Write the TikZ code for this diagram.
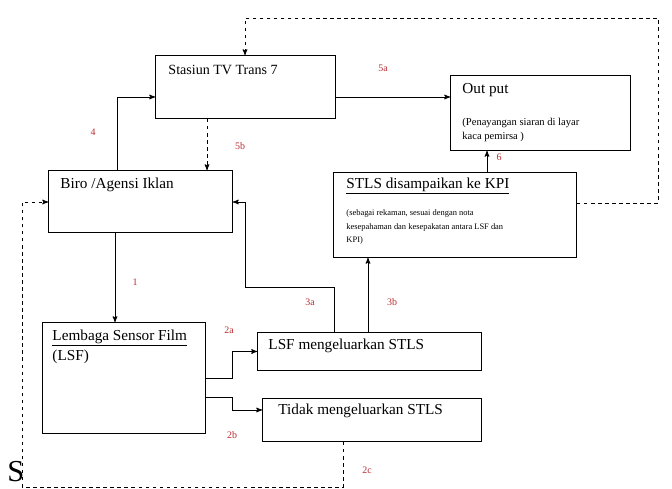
\documentclass[tikz,border=0pt]{standalone}
\usepackage{fontspec}
\setmainfont{Liberation Serif}
\usetikzlibrary{positioning, arrows}
\definecolor{numred}{RGB}{185,45,50}

\begin{document}
\begin{tikzpicture}[x=0.03cm, y=-0.03cm, >=stealth', line width=0.8pt,
box/.style={rectangle, draw=black, anchor=north west, inner sep=0pt},
title/.style={anchor=west, inner sep=0pt, font=\fontsize{13}{15}\selectfont},
note/.style={anchor=north west, inner sep=0pt, align=left, font=\fontsize{7.2}{11.8}\selectfont},
num/.style={text=numred, inner sep=0pt, font=\fontsize{8.5}{10}\selectfont}]
    \useasboundingbox (0,0) rectangle (672,489);

    % boxes
    \node[box, minimum width=5.4cm, minimum height=1.89cm] (tv) at (155,55) {};
    \node[box, minimum width=5.4cm, minimum height=2.25cm] (output) at (450,75) {};
    \node[box, minimum width=5.52cm, minimum height=1.86cm] (biro) at (48,170) {};
    \node[box, minimum width=7.29cm, minimum height=2.55cm] (stls) at (333,172) {};
    \node[box, minimum width=4.89cm, minimum height=3.33cm] (lsf) at (42,322) {};
    \node[box, minimum width=6.72cm, minimum height=1.14cm] (keluar) at (257,332) {};
    \node[box, minimum width=6.57cm, minimum height=1.29cm] (tidak) at (262,398) {};

    % texts
    \node[title, font=\fontsize{12}{14}\selectfont] (tvtext) at (168,70) {Stasiun TV Trans 7};
    \node[title] (outtext) at (462,90) {Out put};
    \node[note, font=\fontsize{9}{12}\selectfont] (outnote) at (462,118) {(Penayangan siaran di layar\\kaca pemirsa )};
    \node[title] (birotext) at (60,185) {Biro /Agensi Iklan};
    \node[title] (stlstext) at (346,186) {\underline{STLS disampaikan ke KPI}};
    \node[note] (stlsnote) at (346,209) {(sebagai rekaman, sesuai dengan nota\\kesepahaman dan kesepakatan antara LSF dan\\KPI)};
    \node[title] (lsftext) at (52,338) {\underline{Lembaga Sensor Film}};
    \node[title] (lsfabbr) at (52,357) {(LSF)};
    \node[title] (keluartext) at (268,346) {LSF mengeluarkan STLS};
    \node[title] (tidaktext) at (278,411) {Tidak mengeluarkan STLS};
    \node[anchor=west, inner sep=0pt, font=\fontsize{26}{28}\selectfont] (s) at (7,472) {S};

    % connectors
    \coordinate (k1) at (115,0);
    \draw[->] (k1 |- biro.south) -- (k1 |- lsf.north);
    \coordinate (k4) at (117,97);
    \draw[->] (k4 |- biro.north) -- (k4) -- (k4 -| tv.west);
    \coordinate (k5) at (0,97);
    \draw[->] (k5 -| tv.east) -- (k5 -| output.west);
    \coordinate (k5b) at (207,0);
    \draw[->, dashed] (k5b |- tv.south) -- (k5b |- biro.north);
    \coordinate (k6) at (487,0);
    \draw[->] (k6 |- stls.north) -- (k6 |- output.south);
    \coordinate (k7) at (0,203);
    \coordinate (r1) at (658,18);
    \coordinate (k7x) at (245,0);
    \draw[->, dashed] (k7 -| stls.east) -- (k7 -| r1) -- (r1) -- (r1 -| k7x) -- (k7x |- tv.north);
    \coordinate (k2a) at (232,378);
    \draw[->] (k2a -| lsf.east) -- (k2a) |- (keluar.west);
    \coordinate (k2b) at (232,397);
    \coordinate (k2y) at (0,410);
    \draw[->] (k2b -| lsf.east) -- (k2b) |- (k2y -| tidak.west);
    \coordinate (k3a) at (334,287);
    \coordinate (k3b) at (245,202);
    \draw[->] (k3a |- keluar.north) -- (k3a) -| (k3b) -- (k3b -| biro.east);
    \coordinate (k3c) at (368,0);
    \draw[->] (k3c |- keluar.north) -- (k3c |- stls.south);
    \coordinate (k2c) at (343,487);
    \coordinate (k2d) at (22,202);
    \draw[->, dashed] (k2c |- tidak.south) -- (k2c) -| (k2d) -- (k2d -| biro.west);

    % numbers
    \node[num] (n1) at (135,282) {1};
    \node[num] (n4) at (93,132) {4};
    \node[num] (n5a) at (383,68) {5a};
    \node[num] (n5b) at (240,146) {5b};
    \node[num] (n6) at (499,157) {6};
    \node[num] (n2a) at (229,330) {2a};
    \node[num] (n2b) at (232,435) {2b};
    \node[num] (n2c) at (367,470) {2c};
    \node[num] (n3a) at (310,302) {3a};
    \node[num] (n3b) at (392,302) {3b};
\end{tikzpicture}
\end{document}
